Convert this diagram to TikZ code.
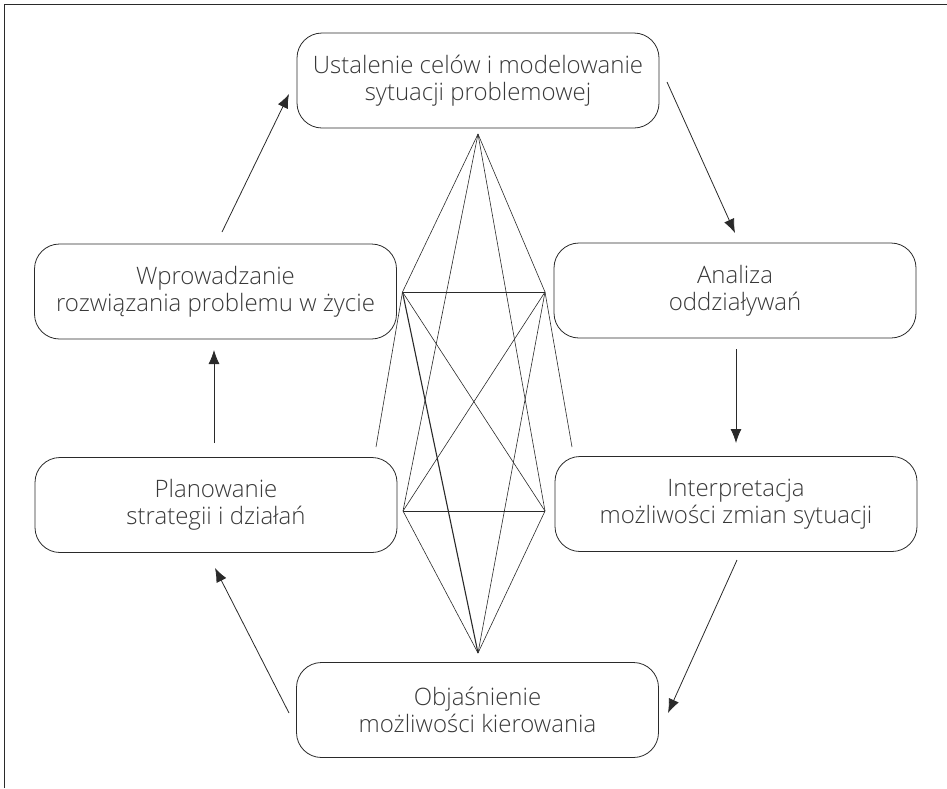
\documentclass[tikz,border=0pt]{standalone}
\usepackage{fontspec}
\setmainfont{Open Sans Light}
\usetikzlibrary{arrows.meta}
\definecolor{txt}{HTML}{383838}
\definecolor{ln}{HTML}{2A2A2A}
\begin{document}
\begin{tikzpicture}[x=1pt,y=-1pt,
  box/.style={draw=ln, line width=0.8pt, rounded corners=25pt, minimum width=362pt, minimum height=95pt, align=center, font=\fontsize{24}{27}\selectfont, text=txt, inner sep=0pt},
  web/.style={draw=ln, line width=0.6pt},
  flow/.style={draw=ln, line width=0.8pt, -{Latex[length=14pt,width=11pt]}}]
\useasboundingbox (0,0) rectangle (947,788);
\draw[line width=1pt, ln] (4.5,788) -- (4.5,4) -- (947,4);
\node[box] (top) at (478,80.5) {Ustalenie celów i modelowanie\\sytuacji problemowej};
\node[box] (wp) at (215.5,291.5) {Wprowadzanie\\rozwiązania problemu w życie};
\node[box] (an) at (735,290.5) {Analiza\\oddziaływań};
\node[box] (pl) at (216,505) {Planowanie\\strategii i działań};
\node[box] (in) at (736,504) {Interpretacja\\możliwości zmian sytuacji};
\node[box] (ob) at (477.5,710) {Objaśnienie\\możliwości kierowania};
\coordinate (T) at (478,134);
\coordinate (LU) at (402.5,292);
\coordinate (RU) at (545,292);
\coordinate (LL) at (403,511);
\coordinate (RL) at (545,511);
\coordinate (B) at (478,653);
\coordinate (FL) at (376,447);
\coordinate (FR) at (572,447);
\draw[web] (T) -- (LU);
\draw[web] (T) -- (RU);
\draw[web] (T) -- (LL);
\draw[web] (T) -- (RL);
\draw[web] (B) -- (LL);
\draw[web] (B) -- (RL);
\draw[web, line width=1.1pt] (B) -- (LU);
\draw[web] (B) -- (RU);
\draw[web] (LU) -- (RU);
\draw[web] (LL) -- (RL);
\draw[web] (LU) -- (RL);
\draw[web] (RU) -- (LL);
\draw[web] (LU) -- (FL);
\draw[web] (RU) -- (FR);
\coordinate (a1s) at (222,232); \coordinate (a1e) at (289,94);
\coordinate (a2s) at (667,82);  \coordinate (a2e) at (735,233);
\coordinate (a3s) at (736,349); \coordinate (a3e) at (736,443);
\coordinate (a4s) at (737,560); \coordinate (a4e) at (668,713);
\coordinate (a5s) at (289,713); \coordinate (a5e) at (215,568);
\coordinate (a6s) at (214,443); \coordinate (a6e) at (214,350);
\draw[flow] (a1s) -- (a1e);
\draw[flow] (a2s) -- (a2e);
\draw[flow] (a3s) -- (a3e);
\draw[flow] (a4s) -- (a4e);
\draw[flow] (a5s) -- (a5e);
\draw[flow] (a6s) -- (a6e);
\end{tikzpicture}
\end{document}
